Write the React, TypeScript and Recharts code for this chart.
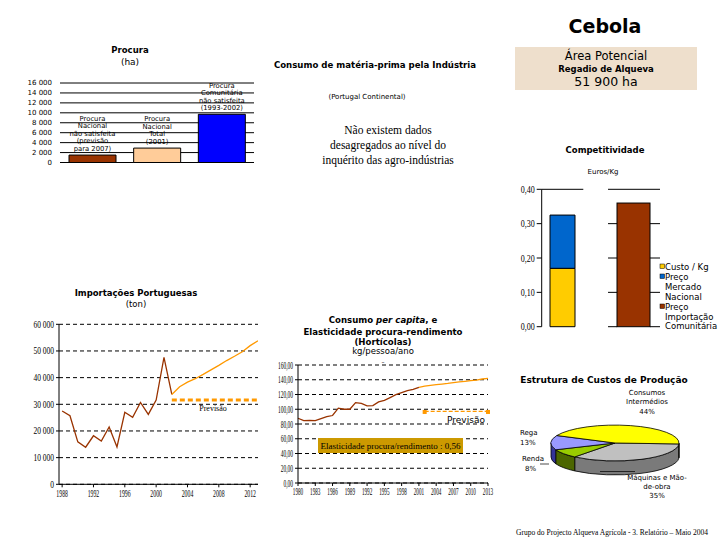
import {
  BarChart,
  Bar,
  Cell,
  XAxis,
  YAxis,
  CartesianGrid,
  LineChart,
  Line,
  ReferenceLine,
  PieChart,
  Pie,
  LabelList,
} from "recharts";

const SANS = "'DejaVu Sans', Verdana, sans-serif";
const SERIF = "'Liberation Serif', 'DejaVu Serif', serif";

// Procura (ha)
const demandLabels = [
  ["Procura", "Nacional", "não satisfeita", "(previsão", "para 2007)"],
  ["Procura", "Nacional", "Total", "(2001)"],
  ["Procura", "Comunitária", "não satisfeita", "(1993-2002)"],
];
const demandHa = [1500, 2900, 9700];
const demandColors = ["#993300", "#FFCC99", "#0000FF"];
const demandTicks = [0, 2000, 4000, 6000, 8000, 10000, 12000, 14000, 16000];

// Importações Portuguesas (ton)
const importYears = [
  1988, 1989, 1990, 1991, 1992, 1993, 1994, 1995, 1996, 1997, 1998, 1999, 2000,
  2001, 2002, 2003, 2004, 2005, 2006, 2007, 2008, 2009, 2010, 2011, 2012, 2013,
];
const importTon = [
  27500, 25700, 15900, 13900, 18200, 16200, 21500, 14000, 27000, 25100, 30700,
  26200, 31600, 47600, 33700,
];
// 2002-2013
const importForecast = [
  33700, 36600, 38300, 39600, 41200, 42900, 44600, 46400, 48000, 49700, 52000,
  53800,
];
const importTrend = [
  31600, 31600, 31600, 31600, 31600, 31600, 31600, 31600, 31600, 31600, 31600,
  31600,
];
const importXTicks = [1988, 1992, 1996, 2000, 2004, 2008, 2012];
const importYTicks = [0, 10000, 20000, 30000, 40000, 50000, 60000];

// Consumo per capita (kg/pessoa/ano)
const capitaYears = [
  1980, 1981, 1982, 1983, 1984, 1985, 1986, 1987, 1988, 1989, 1990, 1991, 1992,
  1993, 1994, 1995, 1996, 1997, 1998, 1999, 2000, 2001, 2002, 2003, 2004, 2005,
  2006, 2007, 2008, 2009, 2010, 2011, 2012, 2013,
];
// 1980-2001
const capitaKg = [
  87.8, 84.5, 85, 84.7, 87.4, 90, 91.5, 101.5, 100, 100, 109, 108, 104.5, 105,
  110, 112, 115.8, 119.8, 122.5, 125.2, 127, 129.7,
];
// 2001-2013
const capitaForecast = [
  129.7, 131.5, 132.4, 133.3, 134.2, 135, 136, 137, 137.8, 138.7, 139.6, 141,
  141.9,
];
// 2002-2013
const capitaTrend = [97, 97, 97, 97, 97, 97, 97, 97, 97, 97, 97, 97];
const capitaXTicks = [
  1980, 1983, 1986, 1989, 1992, 1995, 1998, 2001, 2004, 2007, 2010, 2013,
];
const capitaYTicks = [0, 20, 40, 60, 80, 100, 120, 140, 160];

// Competitividade (Euros/Kg)
const compCusto = [0.17];
const compMercado = [0.155];
const compImport = [0.36];
const compTicks = [0, 0.1, 0.2, 0.3, 0.4];

// Estrutura de Custos de Produção (%)
const costNames = ["Máquinas e Mão-de-obra", "Renda", "Rega", "Consumos Intermédios"];
const costShares = [35, 8, 13, 44];
const costTop = ["#C0C0C0", "#99CC00", "#9999FF", "#FFFF00"];
const costSide = ["#7A7A7A", "#4C6600", "#333399", "#999900"];

const demandData = demandHa.map((v, i) => ({ i, v }));
const importData = importYears.map((year, i) => ({
  year,
  imp: i < importTon.length ? importTon[i] : null,
  fc: i >= 14 ? importForecast[i - 14] : null,
  tr: i >= 14 ? importTrend[i - 14] : null,
}));
const capitaData = capitaYears.map((year, i) => ({
  year,
  kg: i < capitaKg.length ? capitaKg[i] : null,
  fc: i >= 21 ? capitaForecast[i - 21] : null,
  tr: i >= 22 ? capitaTrend[i - 22] : null,
}));
// both panels in one chart: x = 0 national column, x = 1 import column
const compData = [
  { x: 0, custo: compCusto[0], mercado: compMercado[0], imp: 0 },
  { x: 1, custo: 0, mercado: 0, imp: compImport[0] },
];
const costData = costNames.map((name, i) => ({ name, value: costShares[i] }));

const thousands = (v: number) =>
  String(v).replace(/\B(?=(\d{3})+(?!\d))/g, " ");
const comma2 = (v: number) => v.toFixed(2).replace(".", ",");
const plain = (v: number) => String(v);

// narrow serif tick labels (the original uses a condensed face)
const condTick =
  (sx: number, size: number, fmt: (v: number) => string, axis: "x" | "y", shift = 0) =>
  (p: any) => (
    <g transform={`translate(${p.x},${p.y + (axis === "x" ? shift : 0)})`}>
      <text
        transform={`scale(${sx},1)`}
        textAnchor={p.textAnchor}
        dy={axis === "x" ? "0.71em" : "0.35em"}
        fontSize={size}
        fontFamily={SERIF}
        fill="#000"
      >
        {fmt(p.payload.value)}
      </text>
    </g>
  );

// import-price column is a little wider than the stacked one
const WideBar = (p: any) =>
  Math.abs(p.height) > 0.5 ? (
    <rect x={p.x - 4} y={p.y} width={p.width + 8} height={p.height} fill={p.fill} stroke="#000" />
  ) : (
    <g />
  );

const RY = 0.28;
const DEPTH = 14;
const ell = (cx: number, cy: number, r: number, deg: number, dy = 0) => {
  const a = (deg * Math.PI) / 180;
  return `${cx + r * Math.cos(a)},${cy - r * RY * Math.sin(a) + dy}`;
};

function TopSlice(p: any) {
  const { cx, cy, outerRadius: r, startAngle: s, endAngle: e, fill } = p;
  const large = Math.abs(e - s) > 180 ? 1 : 0;
  const sweep = e < s ? 1 : 0;
  return (
    <path
      d={`M${cx},${cy} L${ell(cx, cy, r, s)} A${r},${r * RY} 0 ${large} ${sweep} ${ell(cx, cy, r, e)} Z`}
      fill={fill}
      stroke="#000"
      strokeWidth={0.8}
    />
  );
}

function SideSlice(p: any) {
  const { cx, cy, outerRadius: r, startAngle, endAngle, fill } = p;
  const lo = Math.min(startAngle, endAngle);
  const hi = Math.max(startAngle, endAngle);
  const parts: number[][] = [];
  for (let k = -2; k <= 1; k++) {
    const u = Math.max(lo, -180 + 360 * k);
    const v = Math.min(hi, 360 * k);
    if (v - u > 0.01) parts.push([u, v]);
  }
  return (
    <g>
      {parts.map(([u, v], i) => (
        <path
          key={i}
          d={`M${ell(cx, cy, r, v)} A${r},${r * RY} 0 0 1 ${ell(cx, cy, r, u)} L${ell(cx, cy, r, u, DEPTH)} A${r},${r * RY} 0 0 0 ${ell(cx, cy, r, v, DEPTH)} Z`}
          fill={fill}
          stroke="#000"
          strokeWidth={0.8}
        />
      ))}
    </g>
  );
}

function DemandLabel(p: any) {
  const { x, y, width, index } = p;
  const lines = demandLabels[index];
  const cx = x + width / 2;
  return (
    <text x={cx} y={y - 4} textAnchor="middle" fontSize={6.8} fontFamily={SANS} fill="#000">
      {lines.map((l, i) => (
        <tspan key={i} x={cx} dy={i === 0 ? -(lines.length - 1) * 7.6 : 7.6}>
          {l}
        </tspan>
      ))}
    </text>
  );
}

function T({
  x,
  y,
  children,
  size = 9,
  bold = false,
  anchor = "middle",
  family = SANS,
  italic = false,
}: any) {
  return (
    <text
      x={x}
      y={y}
      fontSize={size}
      fontWeight={bold ? "bold" : "normal"}
      fontStyle={italic ? "italic" : "normal"}
      textAnchor={anchor}
      dominantBaseline="central"
      fontFamily={family}
      fill="#000"
    >
      {children}
    </text>
  );
}

const box = (left: number, top: number) =>
  ({ position: "absolute", left, top } as const);

export default function App() {
  const capFirst = 22;
  const capLast = capitaYears.length - 1;
  return (
    <div
      style={{
        position: "absolute",
        left: 0,
        top: 0,
        width: 720,
        height: 540,
        background: "#fff",
        overflow: "hidden",
        fontFamily: SANS,
      }}
    >
      {/* Procura */}
      <div style={box(0, 75)}>
        <BarChart
          width={260}
          height={100}
          data={demandData}
          margin={{ top: 8, right: 6, left: 8, bottom: 12.5 }}
          barSize={47}
        >
          <CartesianGrid vertical={false} stroke="#000" />
          <XAxis dataKey="i" hide />
          <YAxis
            domain={[0, 16000]}
            ticks={demandTicks}
            interval={0}
            width={52}
            axisLine={false}
            tickLine={false}
            tick={{ fontSize: 7, fill: "#000", fontFamily: SANS }}
            tickFormatter={thousands}
          />
          <Bar dataKey="v" stroke="#000" strokeWidth={1} isAnimationActive={false}>
            {demandData.map((d, i) => (
              <Cell key={i} fill={demandColors[i]} />
            ))}
            <LabelList dataKey="v" content={DemandLabel} />
          </Bar>
        </BarChart>
      </div>

      {/* Importações */}
      <div style={box(0, 315)}>
        <LineChart
          width={265}
          height={190}
          data={importData}
          margin={{ top: 9.3, right: 7, left: 8, bottom: 6.7 }}
        >
          <CartesianGrid vertical={false} stroke="#000" strokeDasharray="4 3" />
          <XAxis
            type="number"
            dataKey="year"
            domain={[1987.6, 2013]}
            ticks={importXTicks}
            interval={0}
            height={14}
            stroke="#000"
            tickSize={3}
            tick={condTick(0.58, 10, plain, "x", 1)}
            allowDataOverflow
          />
          <YAxis
            domain={[0, 60000]}
            ticks={importYTicks}
            interval={0}
            width={51}
            stroke="#000"
            tickSize={3}
            tick={condTick(0.75, 10, thousands, "y")}
          />
          <Line dataKey="imp" stroke="#993300" strokeWidth={1.3} dot={false} isAnimationActive={false} />
          <Line dataKey="fc" stroke="#FF9900" strokeWidth={1.3} dot={false} isAnimationActive={false} />
          <Line
            dataKey="tr"
            stroke="#FF9900"
            strokeWidth={3}
            strokeDasharray="5 3"
            dot={false}
            isAnimationActive={false}
          />
        </LineChart>
      </div>

      {/* Consumo per capita */}
      <div style={box(250, 355)}>
        <LineChart
          width={245}
          height={150}
          data={capitaData}
          margin={{ top: 10, right: 7, left: 0, bottom: 8 }}
        >
          <CartesianGrid vertical={false} stroke="#000" strokeDasharray="4 3" />
          <XAxis
            type="number"
            dataKey="year"
            domain={[1980, 2013]}
            ticks={capitaXTicks}
            interval={0}
            height={14}
            stroke="#000"
            tickSize={3}
            tick={condTick(0.52, 10, plain, "x", 0)}
          />
          <YAxis
            domain={[0, 160]}
            ticks={capitaYTicks}
            interval={0}
            width={48}
            stroke="#000"
            tickSize={3}
            tick={condTick(0.55, 10, comma2, "y")}
          />
          <Line dataKey="kg" stroke="#993300" strokeWidth={1.3} dot={false} isAnimationActive={false} />
          <Line dataKey="fc" stroke="#FF9900" strokeWidth={1.3} dot={false} isAnimationActive={false} />
          <Line
            dataKey="tr"
            stroke="#FF9900"
            strokeWidth={1.2}
            strokeDasharray="4 2"
            isAnimationActive={false}
            dot={(p: any) =>
              p.index === capFirst || p.index === capLast ? (
                <rect key={p.index} x={p.cx - 2} y={p.cy - 1.5} width={4} height={4} fill="#FF9900" />
              ) : (
                <g key={p.index} />
              )
            }
          />
        </LineChart>
      </div>

      {/* Competitividade */}
      <div style={box(500, 180)}>
        <BarChart
          width={170}
          height={155}
          data={compData}
          margin={{ top: 9.3, right: 10, left: 0, bottom: 8.3 }}
          barSize={25}
        >
          <XAxis type="number" dataKey="x" domain={[-0.293, 1.373]} hide allowDataOverflow />
          <YAxis
            domain={[0, 0.4]}
            ticks={compTicks}
            interval={0}
            width={41.7}
            stroke="#000"
            tickSize={5}
            tick={condTick(0.8, 10, comma2, "y")}
          />
          <ReferenceLine segment={[{ x: -0.293, y: 0.4 }, { x: 0.293, y: 0.4 }]} stroke="#000" />
          <ReferenceLine segment={[{ x: 0.641, y: 0.4 }, { x: 1.373, y: 0.4 }]} stroke="#000" />
          {compTicks.slice(0, 4).map((t) => (
            <ReferenceLine key={`l${t}`} segment={[{ x: 0.641, y: t }, { x: 0.768, y: t }]} stroke="#000" />
          ))}
          {compTicks.slice(0, 4).map((t) => (
            <ReferenceLine key={`r${t}`} segment={[{ x: 1.232, y: t }, { x: 1.373, y: t }]} stroke="#000" />
          ))}
          <Bar dataKey="custo" stackId="s" fill="#FFCC00" stroke="#000" isAnimationActive={false} />
          <Bar dataKey="mercado" stackId="s" fill="#0066CC" stroke="#000" isAnimationActive={false} />
          <Bar dataKey="imp" stackId="s" fill="#993300" shape={WideBar} isAnimationActive={false} />
        </BarChart>
      </div>

      {/* Estrutura de custos */}
      <div style={box(520, 390)}>
        <PieChart width={180} height={100}>
          <Pie
            data={costData}
            dataKey="value"
            cx={90}
            cy={48}
            outerRadius={64}
            startAngle={-3}
            endAngle={-363}
            isAnimationActive={false}
            activeShape={SideSlice}
            inactiveShape={SideSlice}
            shape={SideSlice}
          >
            {costData.map((d, i) => (
              <Cell key={i} fill={costSide[i]} />
            ))}
          </Pie>
          <Pie
            data={costData}
            dataKey="value"
            cx={90}
            cy={48}
            outerRadius={64}
            startAngle={-3}
            endAngle={-363}
            isAnimationActive={false}
            activeShape={TopSlice}
            inactiveShape={TopSlice}
            shape={TopSlice}
          >
            {costData.map((d, i) => (
              <Cell key={i} fill={costTop[i]} />
            ))}
          </Pie>
        </PieChart>
      </div>

      {/* texts */}
      <svg
        width={720}
        height={540}
        style={{ position: "absolute", left: 0, top: 0, pointerEvents: "none" }}
      >
        <T x={605} y={26} size={19} bold>Cebola</T>
        <rect x={515} y={47} width={182} height={43} fill="#EEDFCC" />
        <T x={606} y={55.5} size={11.5}>Área Potencial</T>
        <T x={606} y={69} size={8.5} bold>Regadio de Alqueva</T>
        <T x={606} y={81} size={12.5}>51 900 ha</T>

        <T x={130} y={50} size={8.5} bold>Procura</T>
        <T x={130} y={61.5} size={9}>(ha)</T>

        <T x={375} y={65} size={8.6} bold>Consumo de matéria-prima pela Indústria</T>
        <T x={367} y={97} size={7}>(Portugal Continental)</T>
        <T x={388} y={130} size={11.5} family={SERIF}>Não existem dados</T>
        <T x={388} y={145} size={11.5} family={SERIF}>desagregados ao nível do</T>
        <T x={388} y={160} size={11.5} family={SERIF}>inquérito das agro-indústrias</T>

        <T x={136} y={292.5} size={8.5} bold>Importações Portuguesas</T>
        <T x={136} y={303.5} size={8.5}>(ton)</T>
        <T x={213} y={408} size={8} family={SERIF}>Previsão</T>

        <text x={383} y={320} fontSize={8.6} fontWeight="bold" textAnchor="middle" dominantBaseline="central" fontFamily={SANS}>
          Consumo <tspan fontStyle="italic">per capita</tspan>, e
        </text>
        <T x={383} y={331.5} size={8.6} bold>Elasticidade procura-rendimento</T>
        <T x={383} y={342} size={8.6} bold>(Hortícolas)</T>
        <T x={383} y={351} size={8.5}>kg/pessoa/ano</T>
        <T x={383} y={361} size={6}>–</T>
        <rect x={318} y={438} width={145} height={15} fill="#CC9900" />
        <T x={390.5} y={445.5} size={9} family={SERIF}>Elasticidade procura/rendimento : 0,56</T>
        <T x={466} y={419.5} size={9}>Previsão</T>

        <T x={605} y={150} size={8.5} bold>Competitividade</T>
        <T x={603} y={172} size={7}>Euros/Kg</T>
        <rect x={660} y={264} width={4.5} height={4.5} fill="#FFCC00" stroke="#000" strokeWidth={0.5} />
        <T x={665} y={266.5} size={8.5} anchor="start">Custo / Kg</T>
        <rect x={660} y={274} width={4.5} height={4.5} fill="#0066CC" stroke="#000" strokeWidth={0.5} />
        <T x={665} y={276.5} size={8.5} anchor="start">Preço</T>
        <T x={665} y={286.5} size={8.5} anchor="start">Mercado</T>
        <T x={665} y={296.5} size={8.5} anchor="start">Nacional</T>
        <rect x={660} y={304} width={4.5} height={4.5} fill="#993300" stroke="#000" strokeWidth={0.5} />
        <T x={665} y={306.5} size={8.5} anchor="start">Preço</T>
        <T x={665} y={316.5} size={8.5} anchor="start">Importação</T>
        <T x={665} y={326} size={8.5} anchor="start">Comunitária</T>

        <T x={604} y={380} size={9} bold>Estrutura de Custos de Produção</T>
        <T x={647} y={392.5} size={7}>Consumos</T>
        <T x={647} y={402} size={7}>Intermédios</T>
        <T x={647} y={411.5} size={7}>44%</T>
        <T x={520} y={433} size={7} anchor="start">Rega</T>
        <T x={520} y={442.5} size={7} anchor="start">13%</T>
        <T x={522} y={459} size={7} anchor="start">Renda</T>
        <T x={525} y={468.5} size={7} anchor="start">8%</T>
        <line x1={540} y1={464} x2={549} y2={464} stroke="#000" strokeWidth={0.7} />
        <line x1={600} y1={471.5} x2={635} y2={471.5} stroke="#000" strokeWidth={0.7} />
        <T x={657} y={478} size={7}>Máquinas e Mão-</T>
        <T x={657} y={487} size={7}>de-obra</T>
        <T x={657} y={496} size={7}>35%</T>

        <T x={612} y={532} size={7.5} family={SERIF}>
          Grupo do Projecto Alqueva Agrícola - 3. Relatório – Maio 2004
        </T>
      </svg>
    </div>
  );
}
